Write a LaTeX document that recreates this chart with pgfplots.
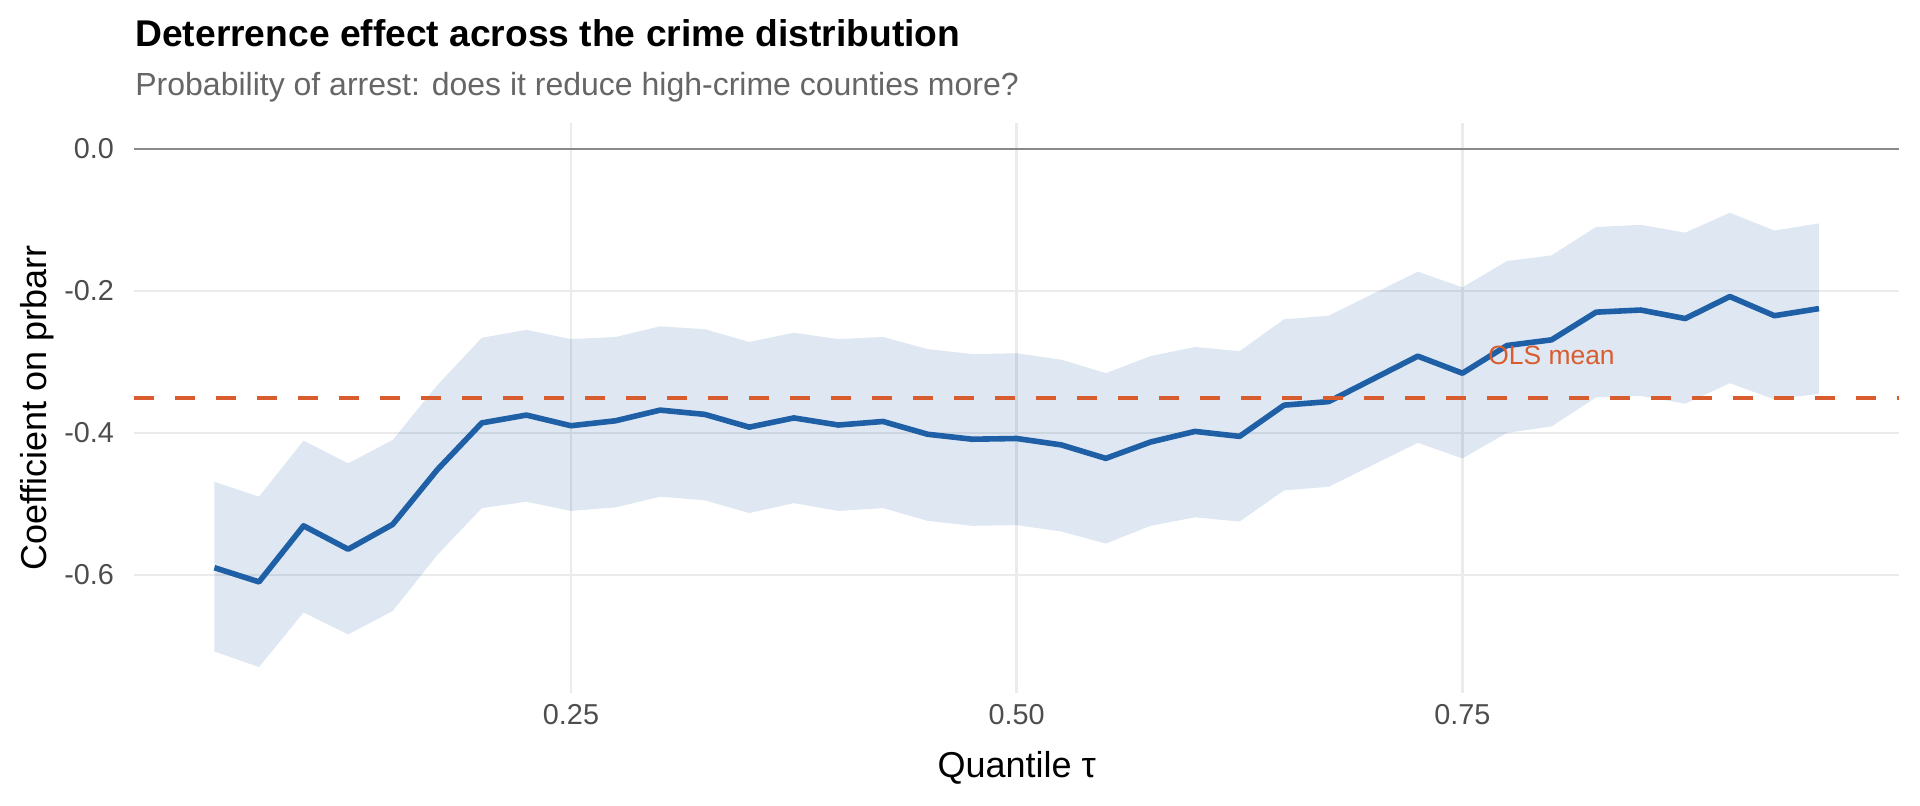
\documentclass[border=0pt]{standalone}
\usepackage{fontspec}
\setmainfont{Liberation Sans}
\usepackage{pgfplots}
\usepackage{pgfplotstable}
\pgfplotsset{compat=1.18}
\usepgfplotslibrary{fillbetween}
\definecolor{lineblue}{HTML}{1F5FA6}
\definecolor{olsred}{HTML}{D95C2E}
\definecolor{gridgray}{HTML}{EBEBEB}
\definecolor{ticktext}{HTML}{4D4D4D}
\definecolor{subgray}{HTML}{666666}
\definecolor{zerogray}{HTML}{8A8A8A}

\pgfplotstableread{
x     lo      est     hi
0.050 -0.708 -0.590 -0.469
0.075 -0.730 -0.610 -0.490
0.100 -0.653 -0.531 -0.411
0.125 -0.684 -0.564 -0.443
0.150 -0.651 -0.529 -0.410
0.175 -0.572 -0.452 -0.333
0.200 -0.506 -0.386 -0.266
0.225 -0.497 -0.375 -0.255
0.250 -0.510 -0.390 -0.268
0.275 -0.505 -0.383 -0.265
0.300 -0.490 -0.368 -0.250
0.325 -0.495 -0.374 -0.254
0.350 -0.513 -0.392 -0.272
0.375 -0.499 -0.379 -0.259
0.400 -0.510 -0.389 -0.268
0.425 -0.506 -0.384 -0.265
0.450 -0.524 -0.402 -0.282
0.475 -0.531 -0.409 -0.289
0.500 -0.530 -0.408 -0.288
0.525 -0.539 -0.417 -0.297
0.550 -0.556 -0.436 -0.316
0.575 -0.531 -0.413 -0.292
0.600 -0.519 -0.398 -0.279
0.625 -0.525 -0.405 -0.285
0.650 -0.481 -0.361 -0.240
0.675 -0.476 -0.356 -0.235
0.700 -0.445 -0.324 -0.204
0.725 -0.414 -0.292 -0.173
0.750 -0.436 -0.316 -0.195
0.775 -0.400 -0.277 -0.158
0.800 -0.391 -0.269 -0.150
0.825 -0.350 -0.230 -0.110
0.850 -0.348 -0.227 -0.107
0.875 -0.359 -0.239 -0.118
0.900 -0.330 -0.208 -0.090
0.925 -0.353 -0.235 -0.115
0.950 -0.345 -0.225 -0.105
}\qr

\begin{document}
\begin{tikzpicture}
\begin{axis}[
  at={(67.1pt,56.5pt)}, anchor=south west,
  scale only axis, width=882.5pt, height=285pt,
  xmin=0.005, xmax=0.995, ymin=-0.7665, ymax=0.0365,
  axis line style={draw=none}, major tick length=0pt,
  xtick={0.25,0.5,0.75}, xticklabels={0.25,0.50,0.75},
  ytick={-0.6,-0.4,-0.2,0}, yticklabels={-0.6,-0.4,-0.2,0.0},
  grid=major, major grid style={draw=gridgray, line width=1.3pt},
  ticklabel style={font=\fontsize{14.4}{16}\selectfont, text=ticktext, inner sep=0pt},
  xticklabel style={anchor=base, yshift=-15.6pt},
  yticklabel style={anchor=east, xshift=-9.9pt},
  xlabel={Quantile τ}, ylabel={Coefficient on prbarr},
  label style={font=\fontsize{18}{20}\selectfont, text=black, inner sep=0pt},
  xlabel style={at={([yshift=-42.4pt]axis description cs:0.5,0)}, anchor=base},
  ylabel style={at={([xshift=-43.7pt]axis description cs:0,0.5)}, anchor=base},
  clip=false
]
\addplot[name path=H, draw=none, forget plot] table[x=x,y=hi]{\qr};
\addplot[name path=L, draw=none, forget plot] table[x=x,y=lo]{\qr};
\addplot[fill=lineblue, fill opacity=0.15, draw=none] fill between[of=H and L];
\addplot[lineblue, line width=2.8pt, line join=round] table[x=x,y=est]{\qr};
\addplot[zerogray, line width=1.3pt] coordinates {(0.005,0) (0.995,0)};
\addplot[olsred, line width=2.4pt, dash pattern=on 10pt off 10.5pt] coordinates {(0.005,-0.351) (0.995,-0.351)};
\node[olsred, font=\fontsize{13.2}{14}\selectfont, inner sep=0pt] at (axis cs:0.80,-0.2915) {OLS mean};
\end{axis}
\node[anchor=base west, inner sep=0pt, font=\bfseries\fontsize{18.6}{20}\selectfont] at (67.5pt,379.5pt) {Deterrence effect across the crime distribution};
\node[anchor=base west, inner sep=0pt, text=subgray, font=\fontsize{16}{18}\selectfont] at (67.5pt,355pt) {Probability of arrest: does it reduce high-crime counties more?};
\path (0,0) rectangle (960pt,403pt);
\end{tikzpicture}
\end{document}
